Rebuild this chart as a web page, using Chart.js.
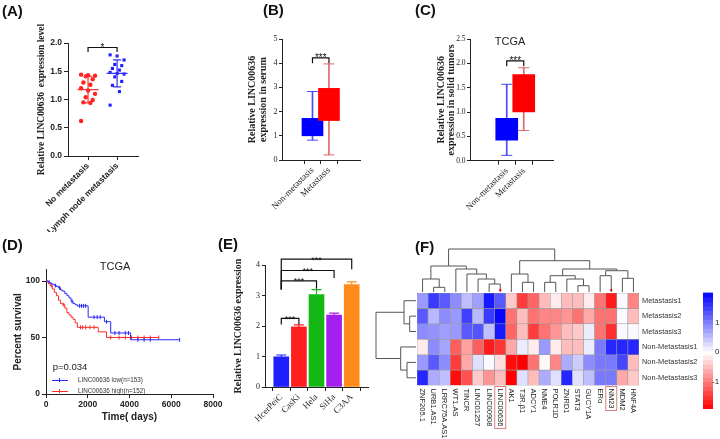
<!DOCTYPE html>
<html><head><meta charset="utf-8">
<title>LINC00636 figure</title>
<script src="https://cdn.jsdelivr.net/npm/chart.js@4.4.1/dist/chart.umd.min.js"></script>
<style>
html,body{margin:0;padding:0;background:#fff;}
#wrap{position:relative;width:720px;height:439px;overflow:hidden;background:#fff;font-family:"Liberation Sans",Arial,sans-serif;color:#111;}
canvas{position:absolute;}
.pl{position:absolute;font-weight:bold;font-size:15px;line-height:15px;white-space:nowrap;color:#111;}
.t{position:absolute;white-space:nowrap;color:#222;transform:translate(-50%,-50%);line-height:1;}
.lg{position:absolute;white-space:nowrap;color:#333;font-size:6.3px;line-height:8px;}
.ln{position:absolute;height:1px;}
</style></head><body>
<div id="wrap">
<canvas id="cA" width="160" height="232" style="left:0;top:0"></canvas>
<canvas id="cB" width="170" height="232" style="left:200px;top:0"></canvas>
<canvas id="cC" width="190" height="232" style="left:370px;top:0"></canvas>
<canvas id="cD" width="230" height="207" style="left:0;top:232px"></canvas>
<canvas id="cE" width="150" height="207" style="left:230px;top:232px"></canvas>
<canvas id="cF" width="350" height="207" style="left:370px;top:232px"></canvas>
<div class="pl" style="left:2px;top:3px">(A)</div>
<div class="pl" style="left:263px;top:2px">(B)</div>
<div class="pl" style="left:415px;top:2px">(C)</div>
<div class="pl" style="left:2px;top:237px">(D)</div>
<div class="pl" style="left:218px;top:236px">(E)</div>
<div class="pl" style="left:415px;top:239px">(F)</div>
<div class="t" style="left:510px;top:41px;font-size:11px">TCGA</div>
<div class="t" style="left:115px;top:266px;font-size:11px">TCGA</div>
<div class="t" style="left:70px;top:367px;font-size:9.5px">p=0.034</div>
<div class="ln" style="left:52px;top:380px;width:16px;background:#2a2aff"></div>
<div class="ln" style="left:59px;top:378px;width:1px;height:4px;background:#2a2aff"></div>
<div class="lg" style="left:78px;top:376px">LINC00636 low(n=153)</div>
<div class="ln" style="left:52px;top:391px;width:16px;background:#ff2a2a"></div>
<div class="ln" style="left:59px;top:389px;width:1px;height:4px;background:#ff2a2a"></div>
<div class="lg" style="left:78px;top:387px">LINC00636 high(n=152)</div>
</div>
<script>
// ================= DATA =================
// (A) scatter: LINC00636 expression by lymph node status
const groupsA = ['No metastasis', 'Lymph node metastasis'];
const noMetA = [1.44, 1.43, 1.42, 1.41, 1.36, 1.30, 1.26, 1.20, 1.16, 1.10, 1.04, 0.99, 0.95, 0.94, 0.62];
const lymphA = [1.79, 1.77, 1.70, 1.62, 1.60, 1.55, 1.52, 1.48, 1.46, 1.45, 1.40, 1.32, 1.25, 1.14, 0.90];
const ticksA = [0, 0.5, 1, 1.5, 2];
const sigA = [{a: 0, b: 1, y: 1.92, legA: 1.84, legB: 1.84, text: '*'}];

// (B) serum box plot
const groupsBC = ['Non-metastasis', 'Metastasis'];
const minB = [0.82, 0.21];
const q1B = [1.00, 1.63];
const q3B = [1.72, 2.96];
const maxB = [2.83, 3.97];
const ticksB = [0, 1, 2, 3, 4, 5];
const sigB = [{a: 0, b: 1, y: 4.22, legA: 4.0, legB: 4.0, text: '***'}];

// (C) TCGA solid tumour box plot
const minC = [0.11, 0.62];
const q1C = [0.42, 1.00];
const q3C = [0.87, 1.77];
const maxC = [1.57, 1.91];
const ticksC = [0, 0.5, 1, 1.5, 2, 2.5];
const sigC = [{a: 0, b: 1, y: 2.05, legA: 1.94, legB: 1.94, text: '***'}];

// (D) Kaplan-Meier (days, percent survival after each step)
const kmLowT  = [0, 100, 200, 300, 400, 500, 600, 700, 800, 900, 1000, 1100, 1200, 1300, 1400, 1500, 2020, 2800, 3100, 4050, 6400];
const kmLowS  = [100, 99, 98, 97, 96, 95, 94, 92, 91, 89, 87, 85, 82, 80, 79, 78, 68, 64, 54, 48, 48];
const kmHighT = [0, 100, 200, 300, 400, 500, 600, 700, 800, 900, 1000, 1100, 1200, 1300, 1400, 1500, 2500, 2900, 5400];
const kmHighS = [100, 98, 96, 93, 90, 87, 83, 80, 79, 76, 72, 70, 68, 66, 63, 59, 55, 50, 50];
const censorLowT  = [150, 450, 650, 1250, 1600, 1700, 1800, 1900, 2300, 2450, 2600, 2900, 3300, 3500, 3800, 3950, 4400, 4700, 5000, 6400];
const censorHighT = [250, 850, 1650, 1750, 1900, 2100, 2300, 3100, 3500, 3800, 4100, 4400, 4700, 5000, 5400];
const ticksDx = [0, 2000, 4000, 6000, 8000];
const ticksDy = [0, 50, 100];

// (E) cell lines bar chart
const cellsE = ['HcerPeiC', 'CasKi', 'Hela', 'SiHa', 'C3AA'];
const exprE = [0.99, 1.97, 3.03, 2.36, 3.36];
const errE = [0.06, 0.07, 0.16, 0.06, 0.09];
const colorsE = ['#1f1fff', '#ff1f1f', '#14b814', '#a31ff0', '#ff8c1a'];
const ticksE = [0, 1, 2, 3, 4];
const sigE = [
  {a: 0, b: 1, y: 2.25, legA: 2.05, legB: 2.05, text: '***'},
  {a: 0, b: 2, y: 3.48, legA: 3.20, legB: 3.22, text: '***'},
  {a: 0, b: 3, y: 3.82, legA: 3.20, legB: 3.57, text: '***'},
  {a: 0, b: 4, y: 4.19, legA: 3.20, legB: 3.86, text: '***'}
];

// (F) heatmap
const heatGenes = ['ZNF205.1', 'URB1.AS1', 'LRRC75A.AS1', 'WT1.AS', 'TINCR', 'LINC01257', 'LINC00908', 'LINC00636',
  'AK1', 'T3R.β1', 'ADCY1', 'NME4', 'POLR1D', 'ZNRD1', 'STAT3', 'GUCY1A', 'ERα', 'NM23', 'MDM2', 'HNF4A'];
const heatRows = ['Metastasis1', 'Metastasis2', 'Metastasis3', 'Non-Metastasis1', 'Non-Metastasis2', 'Non-Metastasis3'];
const heatM1 = [0.8, 1.55, 1.3, 0.9, 0.5, 0.75, 1.8, 1.3, -0.4, -1.45, -1.15, -0.5, -0.15, -0.5, -0.5, -0.15, -1.05, -1.7, 0.05, -0.9];
const heatM2 = [1.3, 0.55, 0.9, 0.8, 1.5, 0.55, 1.55, 1.95, -1.05, -0.5, -1.05, -0.9, -0.9, -0.8, -1.05, -0.65, -1.05, -1.05, 0.05, -0.5];
const heatM3 = [0.9, 0.85, 0.75, 0.8, 1.3, 1.35, 0.5, 1.8, -1.15, -0.5, -1.45, -1.05, -0.8, -0.5, -0.4, 0.15, -1.05, -1.55, 0.05, 0.05];
const heatN1 = [-0.15, 0.9, 0.7, -1.2, -0.7, -1.2, -1.7, -1.5, -0.65, 0.15, -0.15, 0.8, -0.15, -0.5, -0.5, 0.15, 1.05, 1.7, 1.7, 1.7];
const heatN2 = [0.8, 1.3, 0.9, -1.45, -0.65, 0.25, 0.05, -0.25, -1.8, -1.9, -1.05, -0.05, -0.9, 0.65, 0.4, 0.9, 1.05, 1.05, 1.45, -0.5];
const heatN3 = [1.7, 0.65, 0.5, -1.8, -1.3, -0.4, -0.8, -0.5, -1.9, 0.25, -0.5, 0.65, 0.25, 1.7, 0.25, 0.5, 1.05, 1.05, -0.65, -0.4];
const heatValues = [heatM1, heatM2, heatM3, heatN1, heatN2, heatN3];
const highlightGenes = ['LINC00636', 'NM23'];
// dendrograms: [left, right, mergeHeight]; leaves are indices
const colTree = [
  [[0, [1, 2, 4.7], 13], [3, [4, [5, [6, 7, 8], 13], 18], 23], 26],
  [[8, [9, 10, 9.7], 18], [[[11, 12, 9.7], [13, [14, 15, 6.3], 13], 16.3], [[16, 17, 16.3], [18, 19, 13.7], 21.3], 23], 31.3],
  43];
const rowTree = [[0, [1, 2, 6.3], 12], [3, [4, 5, 9], 15.3], 40];
const colorbarTicks = [1, 0, -1];

// ================= HELPERS =================
const SERIF = "'Liberation Serif', 'Times New Roman', serif";
const SANS = "'Liberation Sans', Arial, sans-serif";
Chart.defaults.font.family = SANS;
Chart.defaults.color = '#222';
const INK = '#222';

function fixedTicks(vals) { return s => { s.ticks = vals.map(v => ({value: v})); }; }

function axis(o) {
  const horiz = !!o.horiz;
  return {
    type: 'linear', min: o.min, max: o.max, reverse: !!o.reverse, position: o.position,
    afterBuildTicks: fixedTicks(o.ticks),
    afterFit: s => { if (horiz) s.height = o.size; else s.width = o.size; },
    ticks: {autoSkip: false, minRotation: o.rot || 0, maxRotation: o.rot || 0, font: o.font, color: INK,
      padding: o.pad == null ? 2 : o.pad, callback: o.fmt},
    grid: {display: true, drawOnChartArea: false, drawTicks: true, tickLength: o.tl == null ? 4 : o.tl, color: INK, lineWidth: 1},
    border: {display: true, color: INK, width: 1},
    title: o.title ? {display: true, text: o.title, font: o.titleFont, color: INK, padding: 0} : {display: false}
  };
}

function baseOpts(padding, extraPlugins, scales) {
  return {
    responsive: false, animation: false, events: [],
    layout: {padding},
    plugins: Object.assign({legend: {display: false}, tooltip: {enabled: false}, title: {display: false}}, extraPlugins || {}),
    scales
  };
}

const bracketPlugin = {
  id: 'brackets',
  afterDatasetsDraw(chart, args, opts) {
    const {ctx, scales: {x, y}} = chart;
    ctx.save();
    ctx.strokeStyle = '#111'; ctx.fillStyle = '#111'; ctx.lineWidth = 1.2;
    ctx.font = opts.font || `10px ${SANS}`;
    ctx.textAlign = 'center'; ctx.textBaseline = 'alphabetic';
    (opts.items || []).forEach(b => {
      const xa = x.getPixelForValue(b.a), xb = x.getPixelForValue(b.b);
      const yy = y.getPixelForValue(b.y);
      ctx.beginPath();
      ctx.moveTo(xa, y.getPixelForValue(b.legA)); ctx.lineTo(xa, yy);
      ctx.lineTo(xb, yy); ctx.lineTo(xb, y.getPixelForValue(b.legB));
      ctx.stroke();
      ctx.fillText(b.text, (xa + xb) / 2, yy + 3.5);
    });
    ctx.restore();
  }
};

const meanSdPlugin = {
  id: 'meanSd',
  afterDatasetsDraw(chart, args, opts) {
    const {ctx, scales: {x, y}} = chart;
    (opts.groups || []).forEach((vals, gi) => {
      const n = vals.length, m = vals.reduce((s, v) => s + v, 0) / n;
      const sd = Math.sqrt(vals.reduce((s, v) => s + (v - m) * (v - m), 0) / (n - 1));
      const cx = x.getPixelForValue(gi);
      const hw = x.getPixelForValue(gi + 0.36) - cx, cw = x.getPixelForValue(gi + 0.14) - cx;
      const ym = y.getPixelForValue(m), yt = y.getPixelForValue(m + sd), yb = y.getPixelForValue(m - sd);
      ctx.save(); ctx.strokeStyle = opts.colors[gi]; ctx.lineWidth = 1.2;
      ctx.beginPath();
      ctx.moveTo(cx - hw, ym); ctx.lineTo(cx + hw, ym);
      ctx.moveTo(cx, yt); ctx.lineTo(cx, yb);
      ctx.moveTo(cx - cw, yt); ctx.lineTo(cx + cw, yt);
      ctx.moveTo(cx - cw, yb); ctx.lineTo(cx + cw, yb);
      ctx.stroke(); ctx.restore();
    });
  }
};

const errPlugin = {
  id: 'errBars',
  afterDatasetsDraw(chart, args, opts) {
    const {ctx, scales: {x, y}} = chart;
    (opts.values || []).forEach((v, i) => {
      const cx = x.getPixelForValue(i), y0 = y.getPixelForValue(v), y1 = y.getPixelForValue(v + opts.errors[i]);
      ctx.save(); ctx.strokeStyle = opts.colors[i]; ctx.lineWidth = 1.2;
      ctx.beginPath(); ctx.moveTo(cx, y0); ctx.lineTo(cx, y1);
      ctx.moveTo(cx - 5, y1); ctx.lineTo(cx + 5, y1); ctx.stroke(); ctx.restore();
    });
  }
};

function rankJitter(vals) {
  const order = vals.map((v, i) => i).sort((a, b) => vals[b] - vals[a]);
  const off = new Array(vals.length);
  order.forEach((idx, k) => { off[idx] = (((k * 3) % 7) - 3) * 0.08; });
  return off;
}

function stepAt(T, S, t) {
  let v = S[0];
  for (let i = 0; i < T.length; i++) if (T[i] <= t) v = S[i];
  return v;
}

function heatColor(v) {
  if (v >= 0) { const t = Math.min(v / 2.0, 1); const c = Math.round(255 * (1 - t)); return `rgb(${c},${c},255)`; }
  const t = Math.min(-v / 1.9, 1); const c = Math.round(255 * (1 - t)); return `rgb(255,${c},${c})`;
}

// ================= (A) =================
const jA0 = rankJitter(noMetA), jA1 = rankJitter(lymphA);
new Chart(document.getElementById('cA'), {
  type: 'scatter',
  data: {datasets: [
    {data: noMetA.map((v, i) => ({x: 0 + jA0[i], y: v})), pointStyle: 'circle', pointRadius: 2.2, pointBackgroundColor: '#ff2020', pointBorderWidth: 0},
    {data: lymphA.map((v, i) => ({x: 1 + jA1[i], y: v})), pointStyle: 'rect', pointRadius: 2.2, pointBackgroundColor: '#2020ff', pointBorderWidth: 0}
  ]},
  options: baseOpts({left: 36, top: 43, right: 22, bottom: 0},
    {meanSd: {groups: [noMetA, lymphA], colors: ['#ff3030', '#3030ff']}, brackets: {items: sigA, font: `10px ${SANS}`}},
    {
      x: axis({horiz: true, min: -0.69, max: 1.72, ticks: [0, 1], size: 76, rot: 45, pad: 1,
        font: {family: SANS, size: 8.5, weight: 'bold'}, fmt: (v, i) => groupsA[i]}),
      y: axis({min: 0, max: 2, ticks: ticksA, size: 32, font: {family: SANS, size: 8.5, weight: 'bold'},
        fmt: v => v.toFixed(1), title: 'Relative LINC00636  expression level', titleFont: {family: SERIF, size: 9.5, weight: 'bold'}})
    }),
  plugins: [meanSdPlugin, bracketPlugin]
});

// ================= (B) & (C) box plots =================
function boxChart(id, mins, q1s, q3s, maxs, yMax, yTicks, sig, pad, yAxisW, xAxisH, xr, titleLines, fmt, boxW, tickFont) {
  const whisk = ['#4a4aff', '#e06a6a'], boxCol = ['#0000ff', '#ff0000'];
  return new Chart(document.getElementById(id), {
    type: 'bar',
    data: {datasets: [
      {type: 'bar', order: 0, grouped: false, barThickness: boxW, backgroundColor: boxCol, borderWidth: 0,
        data: groupsBC.map((g, i) => ({x: i, y: [q1s[i], q3s[i]]}))},
      {type: 'bar', order: 1, grouped: false, barThickness: 1, backgroundColor: whisk, borderWidth: 0,
        data: groupsBC.map((g, i) => ({x: i, y: [mins[i], maxs[i]]}))},
      {type: 'scatter', order: 2, pointStyle: 'line', pointRadius: 5.5, pointBorderWidth: 1,
        pointBorderColor: [whisk[0], whisk[0], whisk[1], whisk[1]],
        data: [{x: 0, y: mins[0]}, {x: 0, y: maxs[0]}, {x: 1, y: mins[1]}, {x: 1, y: maxs[1]}]}
    ]},
    options: baseOpts(pad, {brackets: {items: sig, font: `10px ${SANS}`}}, {
      x: axis({horiz: true, min: xr[0], max: xr[1], ticks: [0, 1], size: xAxisH, rot: 45, pad: 1,
        font: {family: SERIF, size: 9}, fmt: (v, i) => groupsBC[i]}),
      y: axis({min: 0, max: yMax, ticks: yTicks, size: yAxisW, tl: 3, pad: 1.5, font: {family: SERIF, size: tickFont},
        fmt: fmt, title: titleLines, titleFont: {family: SERIF, size: 10, weight: 'bold', lineHeight: 1.08}})
    }),
    plugins: [bracketPlugin]
  });
}
boxChart('cB', minB, q1B, q3B, maxB, 5, ticksB, sigB, {left: 47.5, top: 39, right: 10, bottom: 6}, 34.5, 66,
  [-0.667, 1.70], ['Relative LINC00636', 'expression in serum'], v => String(v), 21, 8);
boxChart('cC', minC, q1C, q3C, maxC, 2.5, ticksC, sigC, {left: 65.6, top: 39, right: 7, bottom: 6}, 34.4, 65.3,
  [-0.94, 1.5], ['Relative LINC00636', 'expression in solid tumors'], v => v.toFixed(1), 22, 7.5);

// ================= (D) Kaplan-Meier =================
new Chart(document.getElementById('cD'), {
  type: 'line',
  data: {datasets: [
    {data: kmLowT.map((t, i) => ({x: t, y: kmLowS[i]})), stepped: true, borderColor: '#2a2aff', borderWidth: 1, pointRadius: 0, fill: false},
    {data: kmHighT.map((t, i) => ({x: t, y: kmHighS[i]})), stepped: true, borderColor: '#ff2a2a', borderWidth: 1, pointRadius: 0, fill: false},
    {type: 'scatter', data: censorLowT.map(t => ({x: t, y: stepAt(kmLowT, kmLowS, t)})), pointStyle: 'line', pointRotation: 90,
      pointRadius: 2, pointBorderWidth: 1, pointBorderColor: '#2a2aff'},
    {type: 'scatter', data: censorHighT.map(t => ({x: t, y: stepAt(kmHighT, kmHighS, t)})), pointStyle: 'line', pointRotation: 90,
      pointRadius: 2, pointBorderWidth: 1, pointBorderColor: '#ff2a2a'}
  ]},
  options: baseOpts({left: 12, top: 37.7, right: 17, bottom: 16}, {}, {
    x: axis({horiz: true, min: 0, max: 8000, ticks: ticksDx, size: 29, tl: 4, pad: 2,
      font: {family: SANS, size: 8.5, weight: 'bold'}, fmt: v => String(v),
      title: 'Time( days)', titleFont: {family: SANS, size: 10, weight: 'bold'}}),
    y: axis({min: 0, max: 110, ticks: ticksDy, size: 34, tl: 4, pad: 2, font: {family: SANS, size: 8.5, weight: 'bold'},
      fmt: v => String(v), title: 'Percent survival', titleFont: {family: SANS, size: 10, weight: 'bold'}})
  })
});

// ================= (E) bars =================
new Chart(document.getElementById('cE'), {
  type: 'bar',
  data: {datasets: [
    {data: cellsE.map((c, i) => ({x: i, y: exprE[i]})), backgroundColor: colorsE, borderWidth: 0, barThickness: 15}
  ]},
  options: baseOpts({left: 2, top: 33, right: 12, bottom: 4},
    {brackets: {items: sigE, font: `9px ${SANS}`}, errBars: {values: exprE, errors: errE, colors: colorsE}},
    {
      x: axis({horiz: true, min: -0.34, max: 4.34, ticks: [0, 1, 2, 3, 4], size: 48, rot: 45, pad: 1,
        font: {family: SERIF, size: 9}, fmt: (v, i) => cellsE[i]}),
      y: axis({min: 0, max: 4, ticks: ticksE, size: 33, tl: 3, pad: 2, font: {family: SERIF, size: 8},
        fmt: v => String(v), title: 'Relative LINC00636 expression', titleFont: {family: SERIF, size: 10, weight: 'bold'}})
    }),
  plugins: [errPlugin, bracketPlugin]
});

// ================= (F) heatmap =================
const heatPlugin = {
  id: 'heatExtras',
  afterDatasetsDraw(chart) {
    const {ctx, chartArea: ca, scales: {x, y}} = chart;
    ctx.save();
    ctx.strokeStyle = '#555'; ctx.lineWidth = 1;
    const colNode = n => {
      if (typeof n === 'number') return {p: x.getPixelForValue(n), h: 0};
      const a = colNode(n[0]), b = colNode(n[1]), h = n[2];
      const yt = ca.top - 1 - h;
      ctx.beginPath();
      ctx.moveTo(a.p, ca.top - 1 - a.h); ctx.lineTo(a.p, yt); ctx.lineTo(b.p, yt); ctx.lineTo(b.p, ca.top - 1 - b.h);
      ctx.stroke();
      return {p: (a.p + b.p) / 2, h};
    };
    colNode(colTree);
    const rowNode = n => {
      if (typeof n === 'number') return {p: y.getPixelForValue(n + 0.5), h: 0};
      const a = rowNode(n[0]), b = rowNode(n[1]), h = n[2];
      const xl = ca.left - 1 - h;
      ctx.beginPath();
      ctx.moveTo(ca.left - 1 - a.h, a.p); ctx.lineTo(xl, a.p); ctx.lineTo(xl, b.p); ctx.lineTo(ca.left - 1 - b.h, b.p);
      ctx.stroke();
      return {p: (a.p + b.p) / 2, h};
    };
    rowNode(rowTree);
    // column labels (rotated clockwise)
    ctx.fillStyle = '#222'; ctx.font = `7.5px ${SANS}`; ctx.textBaseline = 'middle'; ctx.textAlign = 'left';
    heatGenes.forEach((g, i) => {
      const px = x.getPixelForValue(i);
      ctx.save(); ctx.translate(px, ca.bottom + 3); ctx.rotate(Math.PI / 2);
      ctx.fillText(g, 0, 0.5);
      if (highlightGenes.includes(g)) {
        const w = ctx.measureText(g).width;
        ctx.strokeStyle = '#d98080'; ctx.lineWidth = 1; ctx.strokeRect(-2, -5.5, w + 4, 11);
      }
      ctx.restore();
      if (highlightGenes.includes(g)) { ctx.fillStyle = '#ff0000'; ctx.fillRect(px - 1, ca.top - 4, 2, 2); ctx.fillStyle = '#222'; }
    });
    // colour key
    const cbX = 333, cbW = 10, vTop = 2.0, vBot = -1.9, yOf = v => 120 - v * 29.7, nb = 26;
    for (let k = 0; k < nb; k++) {
      const v0 = vBot + (vTop - vBot) * k / nb, v1 = vBot + (vTop - vBot) * (k + 1) / nb;
      ctx.fillStyle = heatColor((v0 + v1) / 2);
      ctx.fillRect(cbX, yOf(v1), cbW, yOf(v0) - yOf(v1) + 0.6);
    }
    ctx.fillStyle = '#222'; ctx.font = `8px ${SANS}`; ctx.textAlign = 'left'; ctx.textBaseline = 'middle';
    colorbarTicks.forEach(t => ctx.fillText(String(t), cbX + cbW + 2 - (t < 0 ? 3 : 0), yOf(t)));
    ctx.restore();
  }
};
new Chart(document.getElementById('cF'), {
  type: 'bar',
  data: {
    labels: heatGenes,
    datasets: heatRows.map((r, ri) => ({
      data: heatGenes.map(() => [ri, ri + 1]),
      backgroundColor: heatValues[ri].map(heatColor),
      borderColor: '#9a9a9a', borderWidth: 0.6, borderSkipped: false,
      barPercentage: 1, categoryPercentage: 1, grouped: false
    }))
  },
  options: baseOpts({left: 47, top: 61, right: 0, bottom: 53.5}, {}, {
    x: {type: 'category', display: false, offset: true},
    y: {type: 'linear', position: 'right', min: 0, max: 6, reverse: true,
      afterBuildTicks: fixedTicks(heatRows.map((r, i) => i + 0.5)),
      afterFit: s => { s.width = 81; },
      ticks: {font: {family: SANS, size: 7.4}, color: '#333', padding: 3, callback: (v, i) => heatRows[i]},
      grid: {display: false, drawTicks: false}, border: {display: false}}
  }),
  plugins: [heatPlugin]
});
</script>
</body></html>
